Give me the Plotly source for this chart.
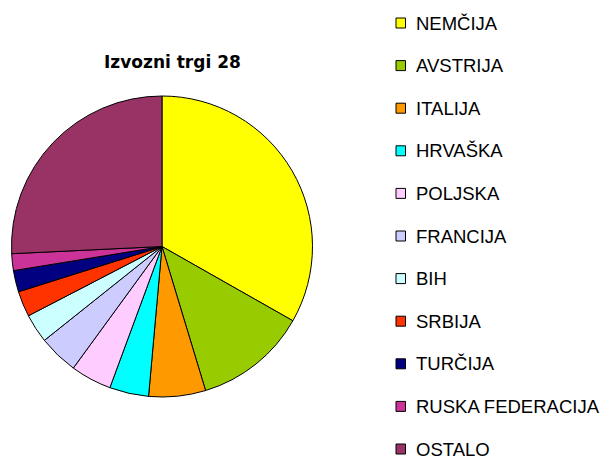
import plotly.graph_objects as go

labels = ["NEMČIJA", "AVSTRIJA", "ITALIJA", "HRVAŠKA", "POLJSKA", "FRANCIJA",
          "BIH", "SRBIJA", "TURČIJA", "RUSKA FEDERACIJA", "OSTALO"]
values = [33.2, 12.1, 6.1, 4.2, 4.4, 4.25, 3.1, 2.75, 2.3, 1.8, 25.75]
colors = ["#FFFF00", "#99CC00", "#FF9900", "#00FFFF", "#FFCCFF", "#CCCCFF",
          "#CCFFFF", "#FF3300", "#000080", "#CC3399", "#993366"]
title_text = "Izvozni trgi 28"

W, H = 602, 462
cx, cy, r = 162, 246.5, 150.5

fig = go.Figure(go.Pie(
    labels=labels, values=values, sort=False, direction="clockwise", rotation=0,
    marker=dict(colors=colors, line=dict(color="black", width=1)),
    textinfo="none", hoverinfo="label+percent", showlegend=False,
    domain=dict(x=[(cx - r) / W, (cx + r) / W], y=[1 - (cy + r) / H, 1 - (cy - r) / H]),
))

shapes = []
annotations = []
y0, step = 23.0, 42.6
for i, (lab, col) in enumerate(zip(labels, colors)):
    yc = y0 + step * i
    shapes.append(dict(type="rect", xref="paper", yref="paper",
                       x0=396 / W, x1=405.5 / W, y0=1 - (yc + 5) / H, y1=1 - (yc - 5) / H,
                       fillcolor=col, line=dict(color="black", width=1)))
    annotations.append(dict(text=lab, xref="paper", yref="paper", x=415 / W, y=1 - yc / H,
                            xanchor="left", yanchor="middle", showarrow=False, borderpad=0,
                            font=dict(family="Liberation Sans, Arial", size=18.5, color="black")))

annotations.append(dict(text="<b>" + title_text + "</b>", xref="paper", yref="paper",
                        x=172 / W, y=1 - 62 / H, xanchor="center", yanchor="middle", showarrow=False,
                        font=dict(family="DejaVu Sans", size=17, color="black")))

fig.update_layout(width=W, height=H, margin=dict(l=0, r=0, t=0, b=0),
                  paper_bgcolor="white", plot_bgcolor="white",
                  shapes=shapes, annotations=annotations, showlegend=False)

fig.write_html("out.html", config={"displayModeBar": False},
               post_script="document.body.style.margin='0';document.body.style.overflow='hidden';")
